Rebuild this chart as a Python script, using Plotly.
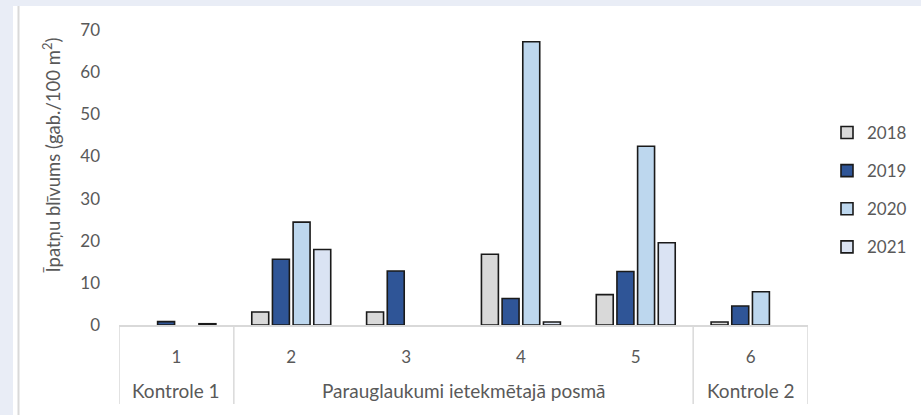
import plotly.graph_objects as go

categories = ["1", "2", "3", "4", "5", "6"]
series_names = ["2018", "2019", "2020", "2021"]
v2018 = [None, 3.1, 3.1, 16.8, 7.2, 0.7]
v2019 = [0.8, 15.6, 12.8, 6.3, 12.7, 4.5]
v2020 = [None, 24.4, None, 67.2, 42.4, 7.9]
v2021 = [0.3, 17.9, None, 0.7, 19.5, None]
series_values = [v2018, v2019, v2020, v2021]
colors = ["#d9d9d9", "#2f5597", "#bdd7ee", "#dae3f3"]

group_labels = ["Kontrole 1", "Parauglaukumi ietekmētajā posmā", "Kontrole 2"]
group_spans = [(0, 0), (1, 4), (5, 5)]  # category index ranges

y_title = "Īpatņu blīvums (gab./100 m<sup>2</sup>)"
y_ticks = [0, 10, 20, 30, 40, 50, 60, 70]

FONT = "Lato, Carlito, 'Open Sans', sans-serif"
TXT = "#595959"

W, H = 921, 415
L, R, T, B = 119, 113, 30, 90
pw = W - L - R
ph = H - T - B

fig = go.Figure()
for name, vals, col in zip(series_names, series_values, colors):
    fig.add_trace(go.Bar(
        x=categories, y=vals, name=name, legendgroup=name,
        marker=dict(color=col, line=dict(color="#1a1a1a", width=1.6)),
    ))

shapes = []
# white card over page background
shapes.append(dict(type="rect", xref="paper", yref="paper",
                   x0=(13 - L) / pw, x1=(W - L + 5) / pw,
                   y0=-(B + 5) / ph, y1=(H - 6 - B) / ph,
                   fillcolor="white", line=dict(width=0), layer="below"))
shapes.append(dict(type="line", xref="paper", yref="paper",
                   x0=(18.5 - L) / pw, x1=(18.5 - L) / pw,
                   y0=-(B + 5) / ph, y1=(H - 6 - B) / ph,
                   line=dict(color="#d9d9d9", width=2), layer="below"))
# group dividers
bounds = sorted(set([s - 0.5 for s, e in group_spans] + [e + 0.5 for s, e in group_spans]))
for b in bounds:
    shapes.append(dict(type="line", xref="x", yref="paper",
                       x0=b, x1=b, y0=0, y1=-(404 - (H - B)) / ph,
                       line=dict(color="#d9d9d9", width=1.5)))

annotations = []
for lab, (s, e) in zip(group_labels, group_spans):
    annotations.append(dict(text=lab, xref="x", yref="paper",
                            x=(s + e) / 2, y=-(390.5 - (H - B)) / ph,
                            showarrow=False, xanchor="center", yanchor="middle",
                            font=dict(family=FONT, size=19, color=TXT)))
annotations.append(dict(text=y_title, xref="paper", yref="paper",
                        x=(52 - L) / pw, y=((H - B) - 155.5) / ph,
                        textangle=-90, showarrow=False,
                        xanchor="center", yanchor="middle",
                        font=dict(family=FONT, size=18.5, color=TXT)))

fig.update_layout(
    width=W, height=H,
    margin=dict(l=L, r=R, t=T, b=B, autoexpand=False),
    paper_bgcolor="#e9edf6",
    plot_bgcolor="white",
    barmode="group", bargap=0.28, bargroupgap=0.18,
    font=dict(family=FONT, size=17, color=TXT),
    showlegend=True,
    legend=dict(x=(827 - L) / pw, xanchor="left", y=((H - B) - 115) / ph, yanchor="top",
                tracegroupgap=13, font=dict(family=FONT, size=17, color=TXT),
                bgcolor="rgba(0,0,0,0)", itemwidth=30),
    shapes=shapes, annotations=annotations,
    xaxis=dict(type="category", categoryorder="array", categoryarray=categories,
               range=[-0.5, len(categories) - 0.5],
               showline=True, linecolor="#d9d9d9", linewidth=1.5,
               ticks="", ticklabelstandoff=16, showgrid=False, zeroline=False,
               tickfont=dict(family=FONT, size=17, color=TXT)),
    yaxis=dict(range=[0, 70], tickvals=y_ticks, showgrid=False, zeroline=False,
               showline=False, ticks="", ticklabelstandoff=18,
               tickfont=dict(family=FONT, size=17, color=TXT)),
)

fig.write_html("out.html", config={"displayModeBar": False},
               post_script="document.body.style.margin='0';document.body.style.overflow='hidden';")
